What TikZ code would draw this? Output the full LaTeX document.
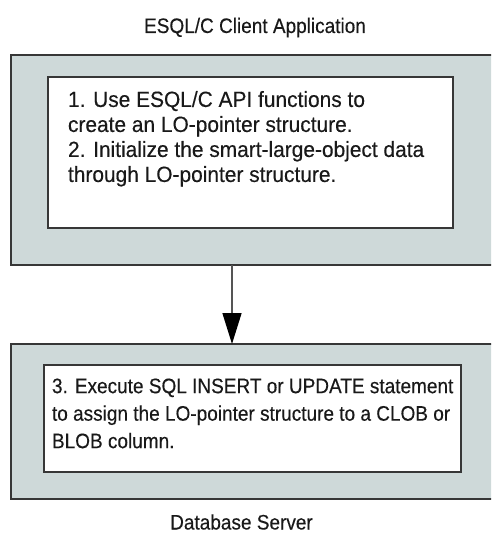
\documentclass[tikz,border=0pt]{standalone}
\usepackage{fontspec}
\setmainfont{Liberation Sans}[FakeStretch=0.905,FakeBold=0.3]
\newfontfamily\widebody{Liberation Sans}[FakeStretch=0.95,FakeBold=0.3]
\usetikzlibrary{arrows.meta}
\definecolor{panelfill}{RGB}{206,217,217}
\definecolor{edge}{RGB}{55,55,55}
\definecolor{ink}{RGB}{25,25,25}
\tikzset{
  panel/.style={draw=edge, line width=2pt, fill=panelfill, inner sep=0, outer sep=0},
  card/.style={draw=edge, line width=2pt, fill=white, inner sep=0, outer sep=0},
  body/.style={anchor=north west, inner sep=0, outer sep=0, align=left, text=ink},
  caption/.style={anchor=base, inner sep=0, outer sep=0, text=ink, font=\fontsize{21}{25}\selectfont},
  flow/.style={draw=edge!85!white, line width=1.5pt, -{Triangle[length=31pt,width=19pt,fill=black,color=black]}}
}
\begin{document}
\begin{tikzpicture}[x=1pt,y=-1pt]
\useasboundingbox (0,0) rectangle (491,534);
\clip (0,0) rectangle (491,534);
% outer panels (right edge runs off the picture)
\node[panel, minimum width=484pt, minimum height=210pt] (top) at (253,160) {};
\node[panel, minimum width=484pt, minimum height=155pt] (bot) at (253,421.5) {};
% inner cards
\node[card, minimum width=405pt, minimum height=151pt] (card1) at (250.5,152.5) {};
\node[card, minimum width=417pt, minimum height=107pt] (card2) at (252.5,418.5) {};
% texts
\node[body, font=\widebody\fontsize{22}{25}\selectfont] (t1) at (68,91)
  {1. Use ESQL/C API functions to\\create an LO-pointer structure.\\2. Initialize the smart-large-object data\\through LO-pointer structure.};
\node[body, font=\fontsize{21}{27.5}\selectfont] (t2) at (52,378.5)
  {3. Execute SQL INSERT or UPDATE statement\\to assign the LO-pointer structure to a CLOB or\\BLOB column.};
\node[caption] (title) at (255,33) {ESQL/C Client Application};
\node[caption] (footer) at (241.5,529.5) {Database Server};
% connector
\coordinate (ax) at (232,0);
\draw[flow] (top.south -| ax) -- (bot.north -| ax);
\end{tikzpicture}
\end{document}
